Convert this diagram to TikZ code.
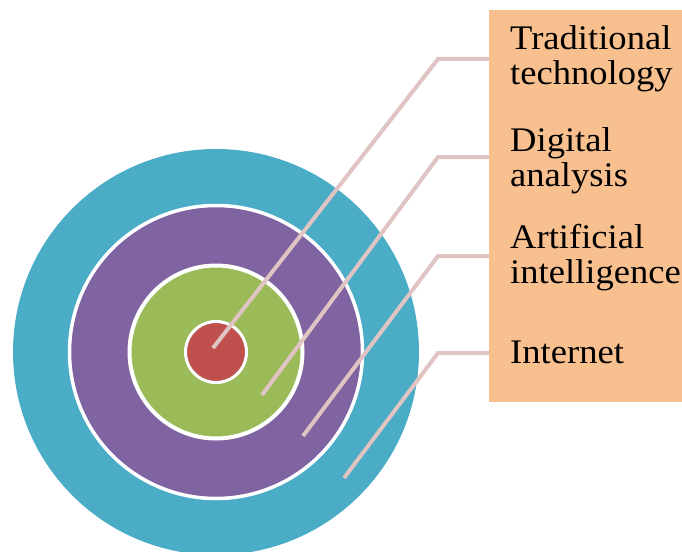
\documentclass[tikz,border=0pt]{standalone}
\usepackage{fontspec}
\setmainfont[FakeStretch=1.06]{Liberation Serif}
\usepackage{tikz}
\definecolor{ringteal}{HTML}{4BACC6}
\definecolor{ringpurple}{HTML}{8064A2}
\definecolor{ringgreen}{HTML}{9BBB59}
\definecolor{ringred}{HTML}{C0504D}
\definecolor{boxorange}{HTML}{F9C08F}
\definecolor{leaderpink}{HTML}{E0C3C3}
\tikzset{
    ring/.style={draw=white, line width=3.5pt}
}
\tikzset{
    leader/.style={draw=leaderpink, line width=4pt, line join=miter}
}
\tikzset{
    lbl/.style={anchor=base west, inner sep=0pt, align=left,
    	font=\fontsize{34.5}{35}\selectfont}
}

\begin{document}
\begin{tikzpicture}[x=1pt,y=-1pt]
	\useasboundingbox (0,0) rectangle (682,551);
	\coordinate (c) at (216,352);
	\fill [ringteal] (c) circle (203);
	\filldraw [ring, fill=ringpurple] (c) circle (146.5);
	\filldraw [ring, fill=ringgreen, line width=4pt] (c) circle (86.5);
	\filldraw [ring, fill=ringred, line width=3pt] (c) circle (30.5);

	\node (box) [fill=boxorange, minimum width=193, minimum height=392,
		anchor=north west, inner sep=0pt] at (489,10) {};

	% base = last line
	\node (t) [lbl] at (510,84) {Traditional\\technology};
	\node (d) [lbl] at (510,186) {Digital\\analysis};
	\node (a) [lbl] at (510,283) {Artificial\\intelligence};
	\node (i) [lbl] at (510,363) {Internet};

	\coordinate (p1) at (213,348); \coordinate (b1) at (438,59);
	\coordinate (p2) at (262,395); \coordinate (b2) at (438,157);
	\coordinate (p3) at (303,436); \coordinate (b3) at (438,256);
	\coordinate (p4) at (344,478); \coordinate (b4) at (438,353);

	\draw [leader] (p1) -- (b1) -- (box.west |- b1);
	\draw [leader] (p2) -- (b2) -- (box.west |- b2);
	\draw [leader] (p3) -- (b3) -- (box.west |- b3);
	\draw [leader] (p4) -- (b4) -- (box.west |- b4);
\end{tikzpicture}
\end{document}
